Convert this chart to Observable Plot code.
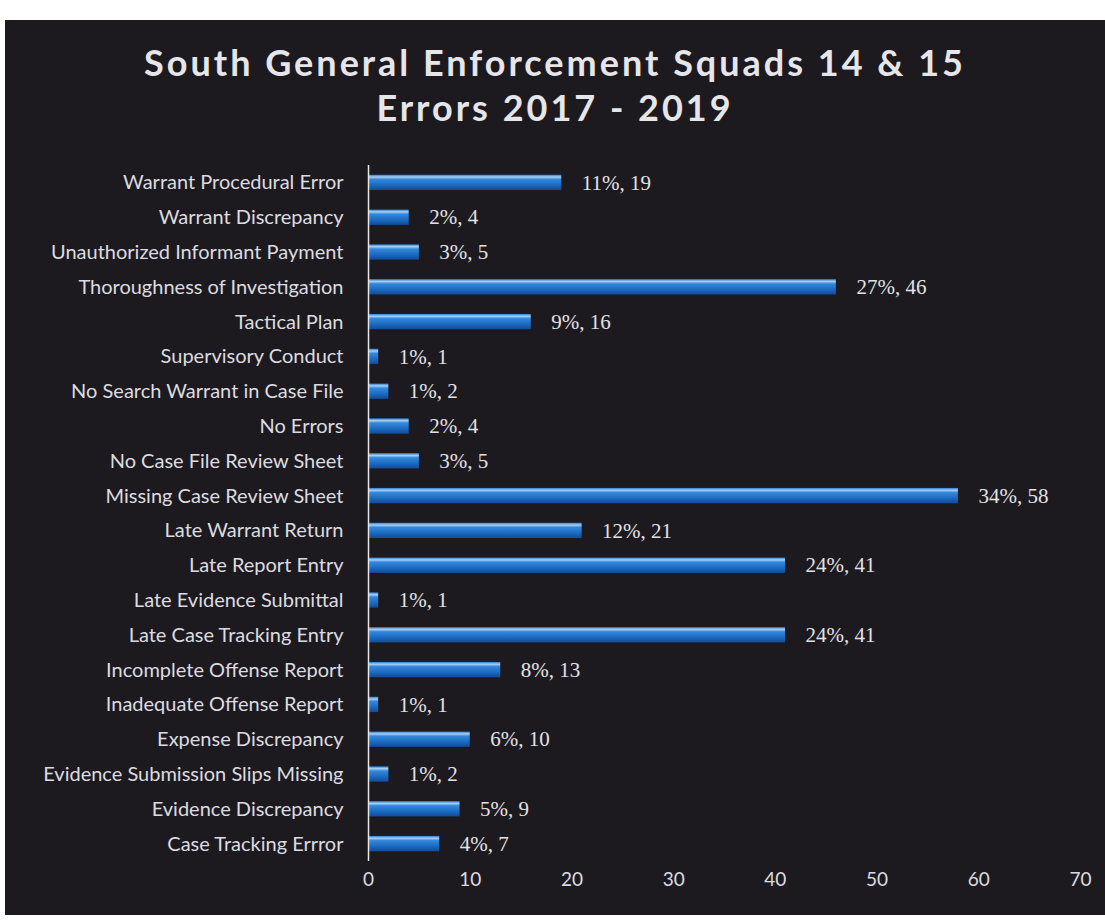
<!DOCTYPE html>
<html>
<head>
<meta charset="utf-8">
<script src="https://cdn.jsdelivr.net/npm/d3@7"></script>
<script src="https://cdn.jsdelivr.net/npm/@observablehq/plot@0.6"></script>
<style>
  html, body { margin: 0; padding: 0; background: #ffffff; }
  #frame {
    position: absolute; left: 5px; top: 20px; width: 1100px; height: 895px;
    background: #1d1a1f; overflow: hidden;
  }
  #title {
    position: absolute; left: 0; top: 20px; width: 1100px; text-align: center;
    font-family: Lato, "Open Sans", sans-serif; font-weight: 700; font-size: 36px;
    letter-spacing: 3px; line-height: 45px; color: #e6e6ea;
  }
  #chart { position: absolute; left: 0; top: 130px; }
  #chart svg { display: block; }
</style>
</head>
<body>
<svg width="0" height="0" style="position:absolute">
  <defs>
    <linearGradient id="barGrad" x1="0" y1="0" x2="0" y2="1">
      <stop offset="0%" stop-color="#2a7bd0"/>
      <stop offset="15%" stop-color="#a6d1f5"/>
      <stop offset="30%" stop-color="#3488da"/>
      <stop offset="65%" stop-color="#1c6cc4"/>
      <stop offset="100%" stop-color="#104c96"/>
    </linearGradient>
  </defs>
</svg>
<div id="frame">
  <div id="title">South General Enforcement Squads 14 &amp; 15<br>Errors 2017 - 2019</div>
  <div id="chart"></div>
</div>
<script>
const categories = [
  "Warrant Procedural Error",
  "Warrant Discrepancy",
  "Unauthorized Informant Payment",
  "Thoroughness of Investigation",
  "Tactical Plan",
  "Supervisory Conduct",
  "No Search Warrant in Case File",
  "No Errors",
  "No Case File Review Sheet",
  "Missing Case Review Sheet",
  "Late Warrant Return",
  "Late Report Entry",
  "Late Evidence Submittal",
  "Late Case Tracking Entry",
  "Incomplete Offense Report",
  "Inadequate Offense Report",
  "Expense Discrepancy",
  "Evidence Submission Slips Missing",
  "Evidence Discrepancy",
  "Case Tracking Errror"
];
const counts = [19, 4, 5, 46, 16, 1, 2, 4, 5, 58, 21, 41, 1, 41, 13, 1, 10, 2, 9, 7];
const percents = [11, 2, 3, 27, 9, 1, 1, 2, 3, 34, 12, 24, 1, 24, 8, 1, 6, 1, 5, 4];
const xTicks = [0, 10, 20, 30, 40, 50, 60, 70];

const data = categories.map((c, i) => ({
  category: c, count: counts[i], label: `${percents[i]}%, ${counts[i]}`
}));

const chart = Plot.plot({
  width: 1100,
  height: 776,
  marginLeft: 363,
  marginRight: 25,
  marginTop: 15,
  marginBottom: 65,
  style: { background: "transparent", color: "#dcdce0", fontFamily: "Lato, sans-serif" },
  x: { domain: [0, 70], ticks: xTicks, label: null },
  y: { domain: categories, paddingInner: 0.56, paddingOuter: 0.28, round: false, label: null },
  marks: [
    Plot.barX(data, { x: "count", y: "category", fill: "url(#barGrad)" }),
    Plot.ruleX([0], { stroke: "#e8e8e8", strokeWidth: 1.5 }),
    Plot.text(data, {
      x: "count", y: "category", text: "label", textAnchor: "start", dx: 20,
      fill: "#e2e2e6", fontSize: 21, fontFamily: "Liberation Serif, serif"
    }),
    Plot.axisY({ tickSize: 0, tickPadding: 25, fontSize: 20, fill: "#dcdce0", label: null,
      style: { letterSpacing: "0.5px" } }),
    Plot.axisX({ ticks: xTicks, tickSize: 0, tickPadding: 11, fontSize: 19, fill: "#dcdce0", label: null })
  ]
});
document.getElementById("chart").appendChild(chart);
</script>
</body>
</html>
